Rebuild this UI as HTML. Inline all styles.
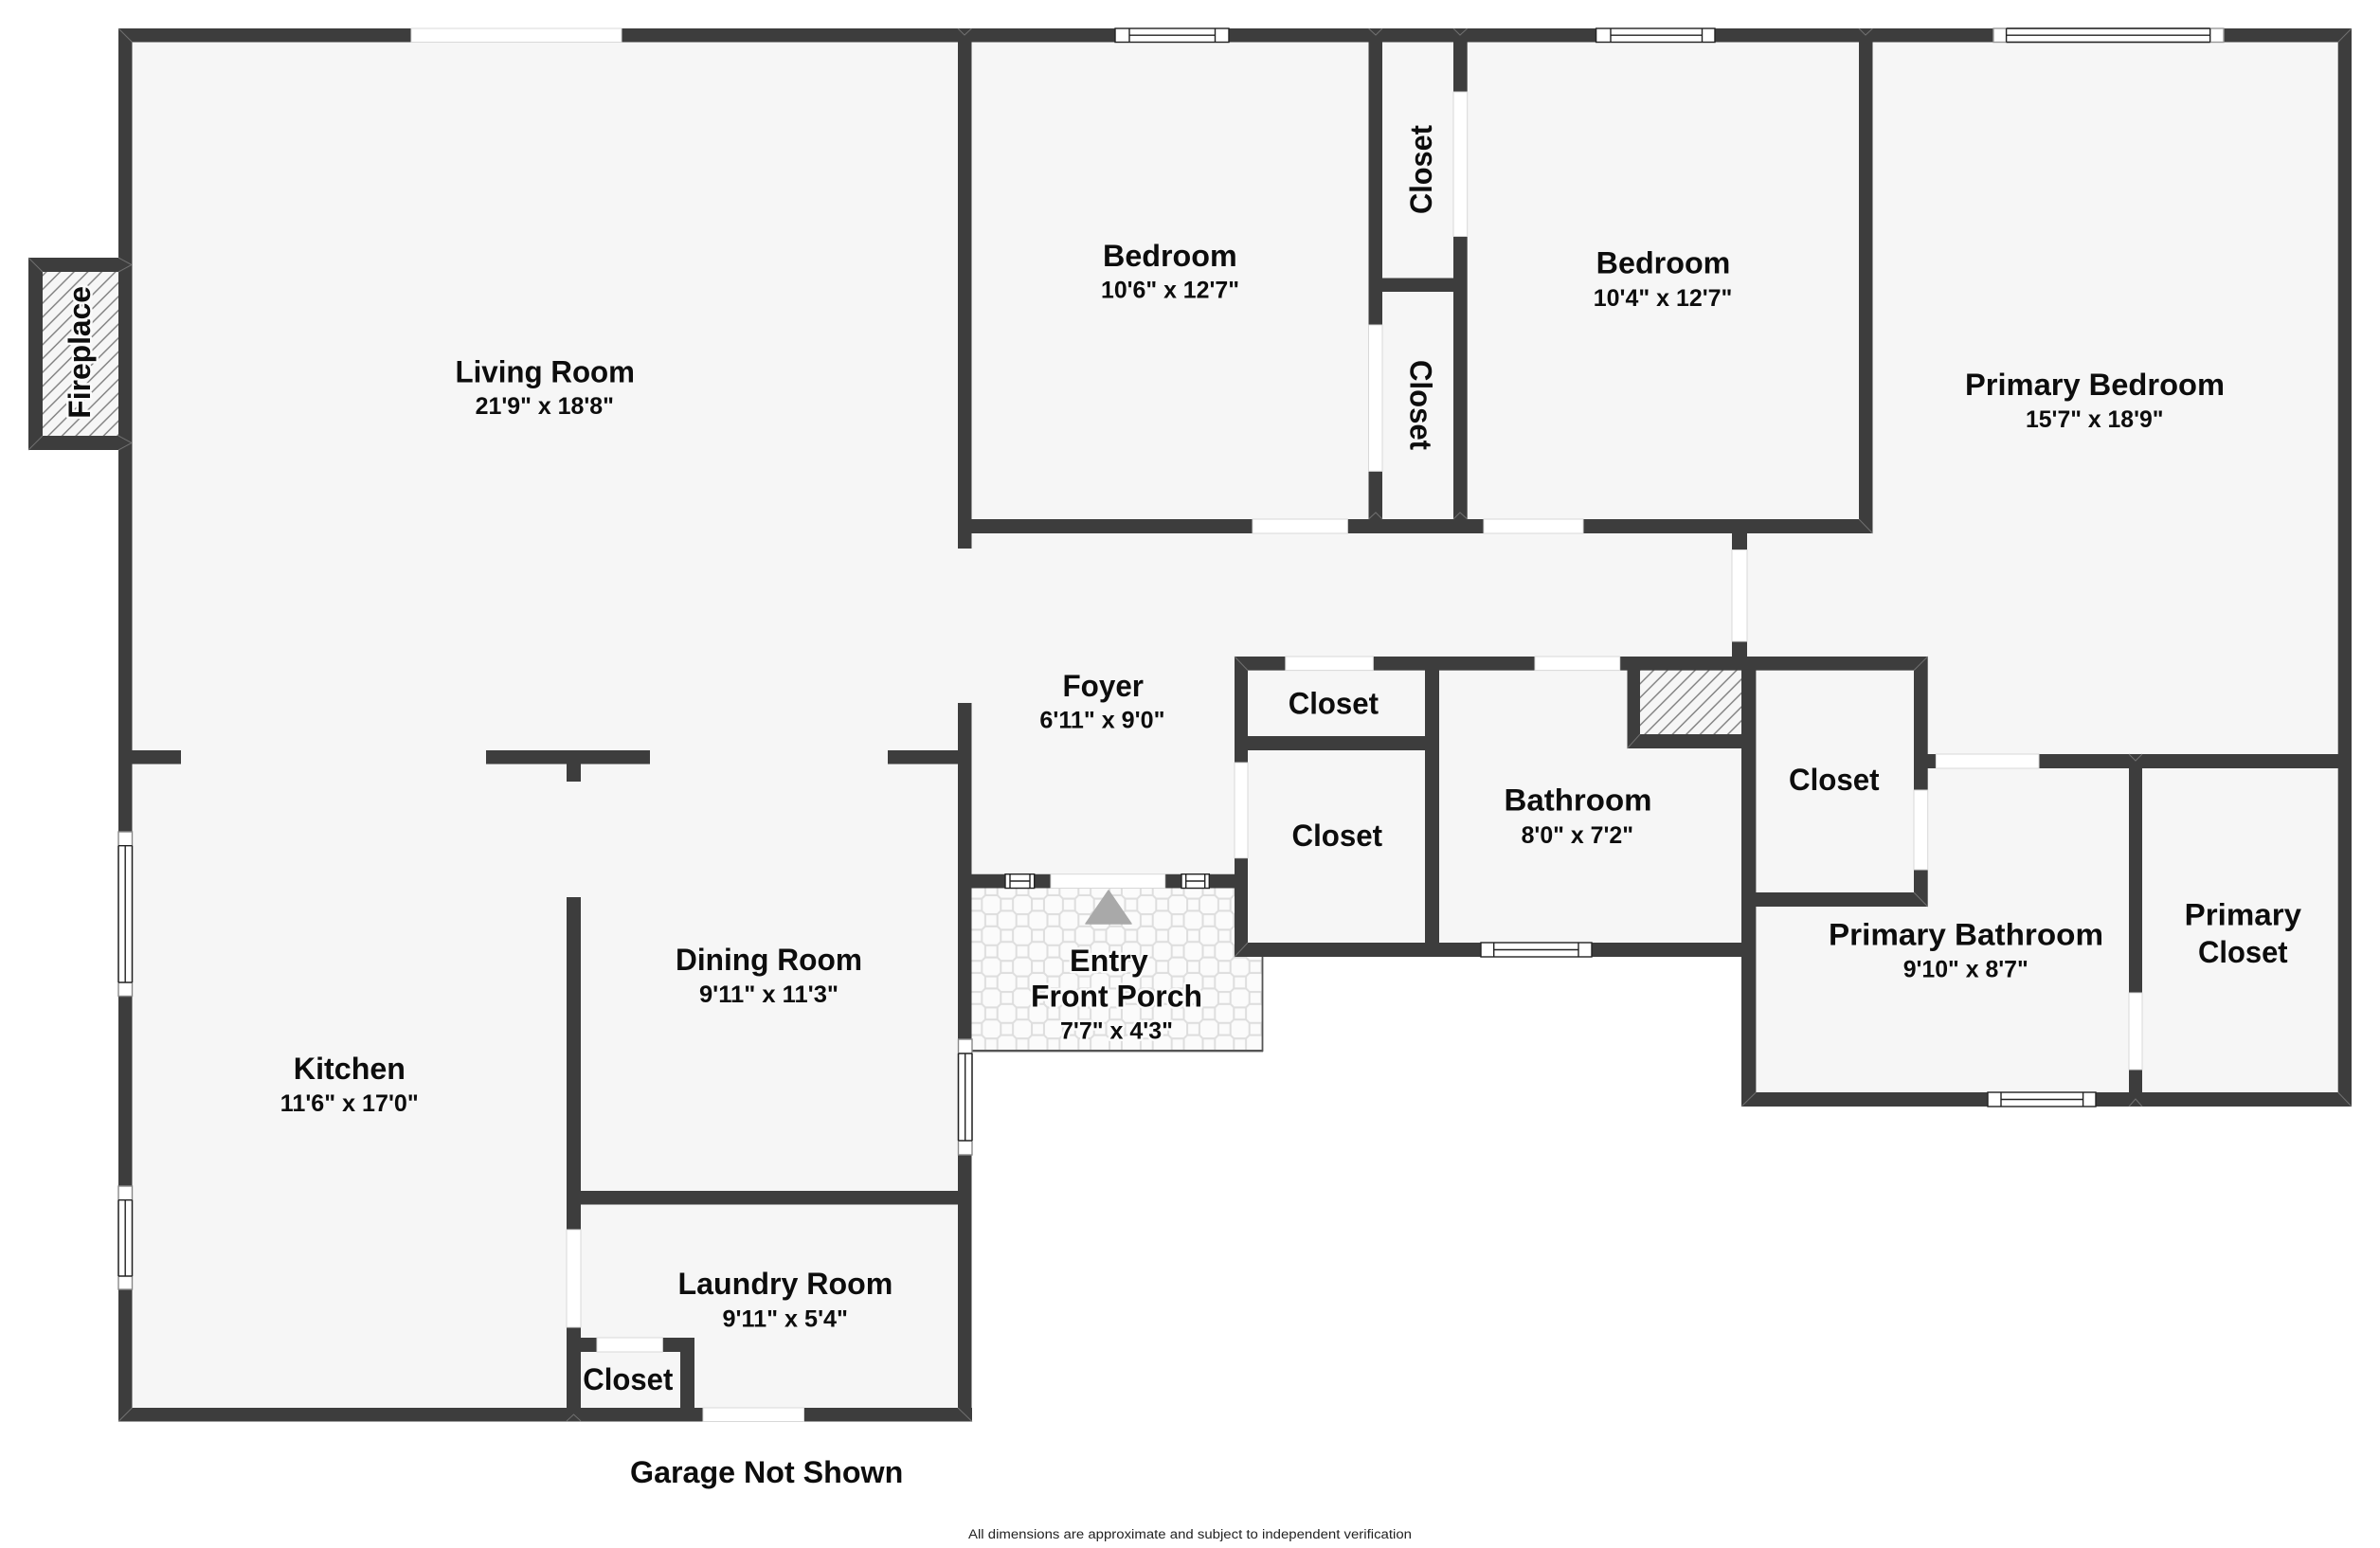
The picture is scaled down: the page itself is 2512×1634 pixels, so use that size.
<!DOCTYPE html>
<html lang="en">
<head>
<meta charset="utf-8">
<title>Floor Plan</title>
<style>
html,body{margin:0;padding:0;background:#fff;}
svg{display:block;}
text{font-family:"Liberation Sans",sans-serif;font-weight:700;fill:#0d0d0d;}
.n{font-size:32px;}
.d{font-size:25px;}
.h{paint-order:stroke;stroke:#fbfbfb;stroke-width:5px;stroke-linejoin:round;}
</style>
</head>
<body>
<svg xmlns="http://www.w3.org/2000/svg" width="2512" height="1634" viewBox="0 0 2512 1634">
<defs>
<pattern id="tile" patternUnits="userSpaceOnUse" width="32.8" height="32.8" patternTransform="translate(1046.3 955)">
<rect width="32.8" height="32.8" fill="#fbfbfb"/>
<path d="M10 -6.4H22.8V6.4H10ZM10 26.4H22.8V39.2H10ZM-6.4 10H6.4V22.8H-6.4ZM26.4 10H39.2V22.8H26.4ZM6.4 10L10 6.4M22.8 6.4L26.4 10M26.4 22.8L22.8 26.4M10 26.4L6.4 22.8" fill="none" stroke="#dedede" stroke-width="2"/>
</pattern>
<pattern id="hatch" patternUnits="userSpaceOnUse" width="14.6" height="14.6">
<rect width="14.6" height="14.6" fill="#f6f6f6"/>
<path d="M-2 2L2 -2M0 14.6L14.6 0M12.6 16.6L16.6 12.6" stroke="#7d7d7d" stroke-width="1.4"/>
</pattern>
</defs>
<rect width="2512" height="1634" fill="#fff"/>

<!-- floors -->
<path d="M125 30H2482V1168H1838V1010H1303V937H1026V1500H125Z" fill="#f6f6f6"/>
<rect x="1025" y="937" width="308" height="173" fill="url(#tile)"/>
<rect x="1317" y="937" width="521" height="58" fill="#f6f6f6"/>
<rect x="1025" y="1108" width="308" height="2.4" fill="#555"/>
<rect x="1331.6" y="1010" width="1.8" height="100" fill="#555"/>
<rect x="45" y="287" width="80" height="173" fill="url(#hatch)"/>
<rect x="1731" y="707" width="107" height="68" fill="url(#hatch)"/>

<!-- walls -->
<path fill="#3d3d3d" d="
M125 30H2482V44.5H125Z
M125 30H139.5V1500.5H125Z
M125 1486H1026V1500.5H125Z
M1011 30H1025.5V579H1011Z
M1011 742H1025.5V1500H1011Z
M125 792H191V806.5H125Z
M513 792H686V806.5H513Z
M937 792H1011V806.5H937Z
M598 806H613V825H598Z
M598 947H613V1500H598Z
M613 1257H1011V1271.5H613Z
M598 1412H733V1427H598Z
M718 1412H733V1500H718Z
M1011 548H1976V563H1011Z
M1444.5 30H1459V548H1444.5Z
M1534 30H1548.7V548H1534Z
M1459 293.5H1534V308H1459Z
M1962 30H1976.5V563H1962Z
M1828 563H1844V693H1828Z
M1303 693H2034.7V707.6H1303Z
M1303 693H1317V1010H1303Z
M1317 777H1504V792H1317Z
M1504 693H1519V1010H1504Z
M1303 995H1838V1010H1303Z
M1717.5 707H1731V790H1717.5Z
M1717.5 775H1853V790H1717.5Z
M1838 693H1853.4V1168H1838Z
M2020 693H2034.7V957H2020Z
M1853 942H2034.7V957H1853Z
M2034 796H2482V811H2034Z
M2247 811H2261V1168H2247Z
M1838 1153H2482V1168H1838Z
M2467.7 30H2482V1168H2467.7Z
M1011 922.7H1317V937.5H1011Z
M30 272H139V287H30Z
M30 272H45V475H30Z
M30 460H139V475H30Z
"/>

<!-- miter lines -->
<path fill="none" stroke="#707070" stroke-width="1" d="
M125 30L139.5 44.5M2482 30L2467.7 44.5M125 1500.5L139.5 1486M1026 1500.5L1011 1486
M30 272L45 287M30 475L45 460M125 272L139 279.5L125 287M125 460L139 467.5L125 475
M1838 1168L1853.4 1153M2482 1168L2467.7 1153M1303 693L1317 707.6M1303 1010L1317 995
M2034.7 693L2020 707.6M2034.7 957L2020 942M1976.5 563L1962 548M1717.5 790L1731 775
M598 1500L605.5 1493L613 1500M1444.5 548L1452 541L1459 548M1534 548L1541 541L1548.7 548
M1011 30L1018 37L1025.5 30M1444.5 30L1452 37L1459 30M1534 30L1541 37L1548.7 30M1962 30L1969 37L1976.5 30
M2247 796L2254 803L2261 796M2247 1168L2254 1160L2261 1168"/>

<!-- openings -->
<g fill="#fff" stroke="#d8d8d8" stroke-width="1">
<rect x="434" y="30" width="222" height="14.5"/>
<rect x="1322" y="548" width="100.4" height="15"/>
<rect x="1566" y="548" width="105" height="15"/>
<rect x="1828" y="580.5" width="16" height="96.5"/>
<rect x="1356.8" y="693" width="92.6" height="14.6"/>
<rect x="1620" y="693" width="89.7" height="14.6"/>
<rect x="1109" y="922.7" width="120.7" height="14.8"/>
<rect x="1303" y="805" width="14" height="100.7"/>
<rect x="2043.4" y="796" width="108.6" height="15"/>
<rect x="2020" y="834" width="14.7" height="84"/>
<rect x="2247" y="1048" width="14" height="81"/>
<rect x="1444.5" y="343" width="14.5" height="154.4"/>
<rect x="1534" y="97" width="14.7" height="152.5"/>
<rect x="598" y="1298" width="15" height="103"/>
<rect x="630" y="1412" width="69.4" height="15"/>
<rect x="742" y="1486" width="106.5" height="14.5"/>
</g>

<!-- windows -->
<g fill="#fff" stroke="#222" stroke-width="1.4">
<rect x="1177" y="30" width="120" height="14.5"/><path d="M1192 30V44.5M1282.5 30V44.5M1192 37.2H1282.5"/>
<rect x="1684.6" y="30" width="125.4" height="14.5"/><path d="M1700 30V44.5M1796.5 30V44.5M1700 37.2H1796.5"/>
<rect x="2104" y="30" width="243" height="14.5" stroke="#999"/><path d="M2117.6 30V44.5M2332.7 30V44.5M2117.6 37.2H2332.7M2117.6 30H2332.7M2117.6 44.5H2332.7"/>
<rect x="1563" y="995" width="117" height="15"/><path d="M1576.7 995V1010M1666 995V1010M1576.7 1002.5H1666"/>
<rect x="2098" y="1153" width="114" height="15"/><path d="M2112 1153V1168M2198.6 1153V1168M2112 1160.5H2198.6"/>
<rect x="1061" y="922.7" width="30.7" height="14.8"/><path d="M1066 922.7V937.5M1087 922.7V937.5M1066 930H1087"/>
<rect x="1247" y="922.7" width="29.3" height="14.8"/><path d="M1251.7 922.7V937.5M1271.7 922.7V937.5M1251.7 930H1271.7"/>
<rect x="125" y="878" width="14.5" height="173.5" stroke="#888"/><path d="M125 892.7H139.5M125 1037H139.5M132.2 892.7V1037M125 892.7V1037M139.5 892.7V1037"/>
<rect x="125" y="1252" width="14.5" height="109" stroke="#888"/><path d="M125 1266.7H139.5M125 1347H139.5M132.2 1266.7V1347M125 1266.7V1347M139.5 1266.7V1347"/>
<rect x="1011.5" y="1097" width="14.5" height="122" stroke="#888"/><path d="M1011.5 1112H1026M1011.5 1204H1026M1018.7 1112V1204M1011.5 1112V1204M1026 1112V1204"/>
</g>

<!-- entry arrow -->
<polygon points="1170,940 1194,975 1146,975" fill="#a9a9a9" stroke="#a9a9a9" stroke-width="1.5" stroke-linejoin="round"/>

<!-- room labels -->
<text class="n" x="480.5" y="403.5" textLength="189.5" lengthAdjust="spacingAndGlyphs">Living Room</text>
<text class="d" x="501.6" y="437" textLength="146.4" lengthAdjust="spacingAndGlyphs">21'9" x 18'8"</text>
<text class="n" x="1164" y="280.8" textLength="141.7" lengthAdjust="spacingAndGlyphs">Bedroom</text>
<text class="d" x="1162" y="314.6" textLength="146" lengthAdjust="spacingAndGlyphs">10'6" x 12'7"</text>
<text class="n" x="1684.7" y="288.6" textLength="141.7" lengthAdjust="spacingAndGlyphs">Bedroom</text>
<text class="d" x="1681.8" y="323.2" textLength="146.6" lengthAdjust="spacingAndGlyphs">10'4" x 12'7"</text>
<text class="n" x="2074" y="416.8" textLength="274" lengthAdjust="spacingAndGlyphs">Primary Bedroom</text>
<text class="d" x="2138" y="451" textLength="145.5" lengthAdjust="spacingAndGlyphs">15'7" x 18'9"</text>
<text class="n" transform="translate(1511 226) rotate(-90)" textLength="94" lengthAdjust="spacingAndGlyphs">Closet</text>
<text class="n" transform="translate(1488.5 380) rotate(90)" textLength="95" lengthAdjust="spacingAndGlyphs">Closet</text>
<text class="n" x="1359.7" y="753.3" textLength="95.3" lengthAdjust="spacingAndGlyphs">Closet</text>
<text class="n" x="1363.5" y="893" textLength="95.5" lengthAdjust="spacingAndGlyphs">Closet</text>
<text class="n" x="1121.5" y="735.2" textLength="85.5" lengthAdjust="spacingAndGlyphs">Foyer</text>
<text class="d" x="1097.4" y="768.7" textLength="132.1" lengthAdjust="spacingAndGlyphs">6'11" x 9'0"</text>
<text class="n" x="1587.5" y="855.7" textLength="156" lengthAdjust="spacingAndGlyphs">Bathroom</text>
<text class="d" x="1605.6" y="890" textLength="118.4" lengthAdjust="spacingAndGlyphs">8'0" x 7'2"</text>
<text class="n" x="1888" y="834" textLength="95.6" lengthAdjust="spacingAndGlyphs">Closet</text>
<text class="n" x="1930" y="997.7" textLength="290" lengthAdjust="spacingAndGlyphs">Primary Bathroom</text>
<text class="d" x="2008.7" y="1031.7" textLength="132.1" lengthAdjust="spacingAndGlyphs">9'10" x 8'7"</text>
<text class="n" x="2305.7" y="976.7" textLength="123.3" lengthAdjust="spacingAndGlyphs">Primary</text>
<text class="n" x="2320" y="1016" textLength="94.6" lengthAdjust="spacingAndGlyphs">Closet</text>
<text class="n h" x="1129" y="1025" textLength="82.7" lengthAdjust="spacingAndGlyphs">Entry</text>
<text class="n h" x="1088" y="1062.3" textLength="181" lengthAdjust="spacingAndGlyphs">Front Porch</text>
<text class="d h" x="1119" y="1096.7" textLength="119" lengthAdjust="spacingAndGlyphs">7'7" x 4'3"</text>
<text class="n" x="309.8" y="1139" textLength="118.2" lengthAdjust="spacingAndGlyphs">Kitchen</text>
<text class="d" x="295.8" y="1173" textLength="146" lengthAdjust="spacingAndGlyphs">11'6" x 17'0"</text>
<text class="n" x="713" y="1024" textLength="197" lengthAdjust="spacingAndGlyphs">Dining Room</text>
<text class="d" x="738" y="1058" textLength="147" lengthAdjust="spacingAndGlyphs">9'11" x 11'3"</text>
<text class="n" x="715.5" y="1366" textLength="226.9" lengthAdjust="spacingAndGlyphs">Laundry Room</text>
<text class="d" x="762.5" y="1400.5" textLength="132.5" lengthAdjust="spacingAndGlyphs">9'11" x 5'4"</text>
<text class="n" x="615.3" y="1467" textLength="95" lengthAdjust="spacingAndGlyphs">Closet</text>
<text class="n h" transform="translate(95 441.7) rotate(-90)" textLength="139.7" lengthAdjust="spacingAndGlyphs">Fireplace</text>
<text class="n" x="665" y="1565" textLength="288.3" lengthAdjust="spacingAndGlyphs">Garage Not Shown</text>
<text x="1022" y="1624" font-size="13.5" style="font-weight:400;fill:#222" textLength="468" lengthAdjust="spacingAndGlyphs">All dimensions are approximate and subject to independent verification</text>
</svg>
</body>
</html>
